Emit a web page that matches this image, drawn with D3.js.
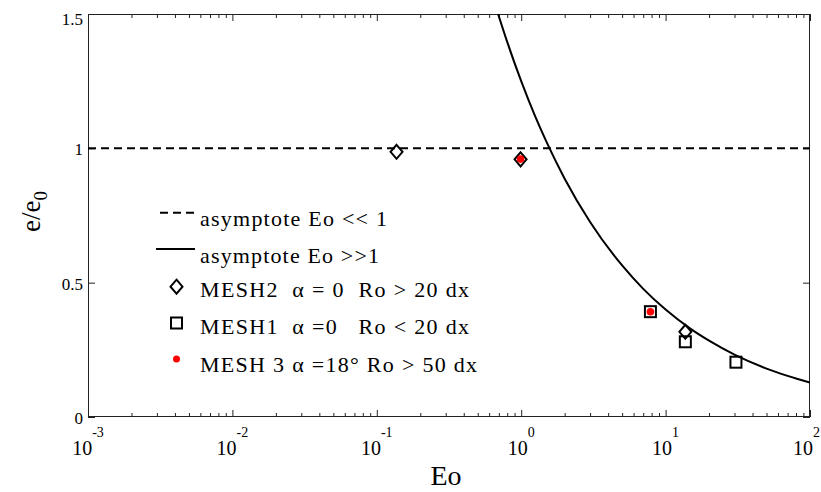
<!DOCTYPE html>
<html>
<head>
<meta charset="utf-8">
<script src="https://cdn.jsdelivr.net/npm/d3@7"></script>
<style>
  html, body { margin: 0; padding: 0; background: #fff; }
  svg { display: block; }
  text { font-family: "Liberation Serif", "Times New Roman", serif; fill: #000; }
</style>
</head>
<body>
<svg id="chart" width="821" height="492"></svg>
<script>
// ---------- data ----------
const xTickExps = [-3, -2, -1, 0, 1, 2];
const yTicks = [0, 0.5, 1, 1.5];
const yTickLabels = ["0", "0.5", "1", "1.5"];

const mesh2Eo  = [0.137, 0.99, 13.7];
const mesh2Val = [0.987, 0.959, 0.317];

const mesh1Eo  = [7.85, 13.7, 30.7];
const mesh1Val = [0.392, 0.280, 0.204];

const mesh3Eo  = [0.99, 7.85];
const mesh3Val = [0.960, 0.392];

const asymLowEo  = [0.001, 100];
const asymLowVal = [1, 1];

const asymHighEo  = [0.69, 0.8, 1, 1.25, 1.5, 2, 3, 5, 7, 10, 15, 20, 30, 50, 70, 100];
const asymHighVal = [1.502, 1.396, 1.25, 1.119, 1.023, 0.887, 0.726, 0.564, 0.477, 0.400, 0.327, 0.284, 0.232, 0.180, 0.153, 0.128];

const legendLabels = [
  "asymptote Eo << 1",
  "asymptote Eo >>1",
  "MESH2  \u03b1 = 0  Ro > 20 dx",
  "MESH1  \u03b1 =0   Ro < 20 dx",
  "MESH 3 \u03b1 =18\u00b0 Ro > 50 dx"
];
const legendWidths = [187, 179, 269, 269, 277];

// ---------- layout ----------
const W = 821, H = 492;
const m = { left: 88, right: 11, top: 14, bottom: 75 };
const x0 = m.left, x1 = W - m.right, y0 = m.top, y1 = H - m.bottom;

const svg = d3.select("#chart");

const x = d3.scaleLog().domain([1e-3, 1e2]).range([x0, x1]);
const y = d3.scaleLinear().domain([0, 1.5]).range([y1, y0]);

svg.append("defs").append("clipPath").attr("id", "clip")
  .append("rect").attr("x", x0).attr("y", y0).attr("width", x1 - x0).attr("height", y1 - y0);

const axisColor = "#222";

// minor ticks (log)
const allTicks = x.ticks();
const minorTicks = allTicks.filter(t => Math.abs(Math.log10(t) - Math.round(Math.log10(t))) > 1e-6);
const majorTicks = xTickExps.map(e => Math.pow(10, e));

function styleAxis(g) {
  g.select(".domain").remove();
  g.selectAll("line").attr("stroke", axisColor).attr("stroke-width", 1);
}

// bottom
svg.append("g").attr("transform", `translate(0,${y1})`)
  .call(d3.axisBottom(x).tickValues(minorTicks).tickSize(-4).tickFormat(""))
  .call(styleAxis);
svg.append("g").attr("transform", `translate(0,${y1})`)
  .call(d3.axisBottom(x).tickValues(majorTicks).tickSize(-7).tickFormat(""))
  .call(styleAxis);
// top
svg.append("g").attr("transform", `translate(0,${y0})`)
  .call(d3.axisTop(x).tickValues(minorTicks).tickSize(-4).tickFormat(""))
  .call(styleAxis);
svg.append("g").attr("transform", `translate(0,${y0})`)
  .call(d3.axisTop(x).tickValues(majorTicks).tickSize(-7).tickFormat(""))
  .call(styleAxis);
// left
svg.append("g").attr("transform", `translate(${x0},0)`)
  .call(d3.axisLeft(y).tickValues(yTicks).tickSize(-7).tickFormat(""))
  .call(styleAxis);
// right
svg.append("g").attr("transform", `translate(${x1},0)`)
  .call(d3.axisRight(y).tickValues(yTicks).tickSize(-7).tickFormat(""))
  .call(styleAxis);

// frame
svg.append("rect")
  .attr("x", x0 + 0.5).attr("y", y0 + 0.5)
  .attr("width", x1 - x0 - 1).attr("height", y1 - y0 - 1)
  .attr("fill", "none").attr("stroke", axisColor).attr("stroke-width", 1);

// x tick labels 10^n
const xl = svg.append("g");
xTickExps.forEach((e, i) => {
  const last = i === xTickExps.length - 1;
  const t = xl.append("text")
    .attr("x", last ? W - 1 : x(Math.pow(10, e)))
    .attr("y", 455)
    .attr("text-anchor", last ? "end" : "middle")
    .style("font-size", "20px");
  t.append("tspan").text("10");
  t.append("tspan").attr("dy", -18).style("font-size", "14px").text(String(e));
});

// y tick labels
svg.append("g").selectAll("text").data(yTicks).join("text")
  .attr("x", 83)
  .attr("y", (d, i) => y(d) + (d === 1.5 ? 11 : 7))
  .attr("text-anchor", "end")
  .style("font-size", "17px")
  .text((d, i) => yTickLabels[i]);

// axis titles
svg.append("text")
  .attr("x", (x0 + x1) / 2 - 3).attr("y", 485)
  .attr("text-anchor", "middle")
  .style("font-size", "28px")
  .text("Eo");

const yl = svg.append("text")
  .attr("transform", `translate(40,${(y0 + y1) / 2 - 4}) rotate(-90)`)
  .attr("text-anchor", "middle")
  .style("font-size", "27px");
yl.append("tspan").text("e/e");
yl.append("tspan").attr("dy", 7).style("font-size", "19px").text("0");

// ---------- lines ----------
const plot = svg.append("g").attr("clip-path", "url(#clip)");

const lineGen = d3.line().x(d => x(d[0])).y(d => y(d[1]));

plot.append("path")
  .datum(asymLowEo.map((e, i) => [e, asymLowVal[i]]))
  .attr("d", lineGen)
  .attr("fill", "none").attr("stroke", "#000").attr("stroke-width", 2)
  .attr("stroke-dasharray", "8,5");

plot.append("path")
  .datum(asymHighEo.map((e, i) => [e, asymHighVal[i]]))
  .attr("d", lineGen.curve(d3.curveMonotoneX))
  .attr("fill", "none").attr("stroke", "#000").attr("stroke-width", 2);

// ---------- markers ----------
const diamondPath = "M0,-7L6,0L0,7L-6,0Z";

plot.selectAll(".m2").data(mesh2Eo.map((e, i) => [e, mesh2Val[i]])).join("path")
  .attr("class", "m2")
  .attr("transform", d => `translate(${x(d[0])},${y(d[1])})`)
  .attr("d", diamondPath)
  .attr("fill", "none").attr("stroke", "#000").attr("stroke-width", 2);

plot.selectAll(".m1").data(mesh1Eo.map((e, i) => [e, mesh1Val[i]])).join("rect")
  .attr("class", "m1")
  .attr("x", d => x(d[0]) - 5.5).attr("y", d => y(d[1]) - 5.5)
  .attr("width", 11).attr("height", 11)
  .attr("fill", "none").attr("stroke", "#000").attr("stroke-width", 2);

plot.selectAll(".m3").data(mesh3Eo.map((e, i) => [e, mesh3Val[i]])).join("circle")
  .attr("class", "m3")
  .attr("cx", d => x(d[0])).attr("cy", d => y(d[1]))
  .attr("r", 3.8)
  .attr("fill", "#ff0000");

// ---------- legend ----------
const leg = svg.append("g");
const legTextX = 200;
const legBaselines = [226, 262.7, 297, 334, 371.7];
const legSymY = [212.7, 249, 286.7, 323, 359];

leg.append("line").attr("x1", 160).attr("x2", 195).attr("y1", legSymY[0]).attr("y2", legSymY[0])
  .attr("stroke", "#000").attr("stroke-width", 2).attr("stroke-dasharray", "8,5");
leg.append("line").attr("x1", 156).attr("x2", 195).attr("y1", legSymY[1]).attr("y2", legSymY[1])
  .attr("stroke", "#000").attr("stroke-width", 2);
leg.append("path").attr("transform", `translate(176.5,${legSymY[2]})`).attr("d", diamondPath)
  .attr("fill", "none").attr("stroke", "#000").attr("stroke-width", 2);
leg.append("rect").attr("x", 176.5 - 5.5).attr("y", legSymY[3] - 5.5).attr("width", 11).attr("height", 11)
  .attr("fill", "none").attr("stroke", "#000").attr("stroke-width", 2);
leg.append("circle").attr("cx", 176.5).attr("cy", legSymY[4]).attr("r", 3.5).attr("fill", "#ff0000");

leg.selectAll("text").data(legendLabels).join("text")
  .attr("x", legTextX)
  .attr("y", (d, i) => legBaselines[i])
  .style("font-size", "22px")
  .style("white-space", "pre")
  .attr("textLength", (d, i) => legendWidths[i])
  .attr("lengthAdjust", "spacing")
  .text(d => d);
</script>
</body>
</html>
